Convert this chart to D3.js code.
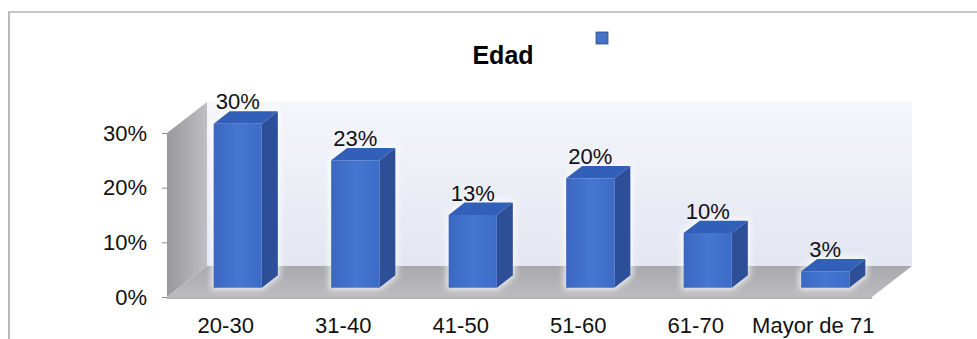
<!DOCTYPE html>
<html>
<head>
<meta charset="utf-8">
<script src="https://cdn.jsdelivr.net/npm/d3@7"></script>
<style>
    body { margin: 0; background: #fff; }
    svg { display: block; font-family: "Liberation Sans", Arial, sans-serif; }
</style>
</head>
<body>
<svg id="chart" width="977" height="339"></svg>
<script>
const title = "Edad"
const categories = ["20-30", "31-40", "41-50", "51-60", "61-70", "Mayor de 71"]
const values = [0.30, 0.233, 0.133, 0.20, 0.10, 0.03]
const valueLabels = ["30%", "23%", "13%", "20%", "10%", "3%"]
const yTicks = [0, 0.10, 0.20, 0.30]

const chartWidth = 977
const chartHeight = 339

// front plane of the floor and the depth vector of the 3d box
const plotLeft = 167
const plotRight = 872
const plotBottom = 297
const plotTop = 133
const depth = {x: 40, y: -31}
const barFront = 0.3
const barBack = 0.7

const svg = d3.select("#chart")

const x = d3.scaleBand()
    .domain(categories)
    .range([plotLeft, plotRight])
    .paddingInner(0.59)
    .paddingOuter(0.295)

const y = d3.scaleLinear()
    .domain([0, 0.30])
    .range([plotBottom, plotTop])

const shift = (p, t) => [p[0] + depth.x * t, p[1] + depth.y * t]
const poly = pts => pts.map(p => p.join(",")).join(" ")

const defs = svg.append("defs")

const grad = (id, x2, y2, stops) => {
    const g = defs.append("linearGradient")
        .attr("id", id)
        .attr("x1", 0).attr("y1", 0)
        .attr("x2", x2).attr("y2", y2)
    stops.forEach(([o, c]) => g.append("stop").attr("offset", o).attr("stop-color", c))
}

grad("backWall", 0, 1, [[0, "#f5f6fb"], [1, "#e3e6f1"]])
grad("leftWall", 1, 0, [[0, "#98989c"], [1, "#bfbfc3"]])
grad("floor", 0, 1, [[0, "#a9a9ad"], [1, "#bcbcc0"]])
grad("barFrontFill", 1, 0, [[0, "#3a67c2"], [0.5, "#4676d0"], [1, "#3d6cc8"]])

defs.append("filter")
    .attr("id", "glow")
    .attr("x", "-30%").attr("y", "-30%")
    .attr("width", "160%").attr("height", "160%")
    .append("feGaussianBlur")
    .attr("stdDeviation", 3)

// outer frame
svg.append("path")
    .attr("d", `M9,${chartHeight} V12 H${chartWidth}`)
    .attr("fill", "none")
    .attr("stroke", "#8c8c8c")
    .attr("stroke-width", 1.2)

// title + legend marker
svg.append("text")
    .attr("x", 503)
    .attr("y", 64)
    .attr("text-anchor", "middle")
    .attr("font-size", 25)
    .attr("font-weight", "bold")
    .text(title)

svg.append("rect")
    .attr("x", 596).attr("y", 32)
    .attr("width", 12).attr("height", 12)
    .attr("fill", "#4472c4")
    .attr("stroke", "#2f528f")
    .attr("stroke-width", 0.8)

// walls and floor
const y0 = y(0)
const yMax = y(0.30)

svg.append("polygon")
    .attr("points", poly([shift([plotLeft, yMax], 1), shift([plotRight, yMax], 1), shift([plotRight, y0], 1), shift([plotLeft, y0], 1)]))
    .attr("fill", "url(#backWall)")

svg.append("polygon")
    .attr("points", poly([[plotLeft, y0], [plotLeft, yMax], shift([plotLeft, yMax], 1), shift([plotLeft, y0], 1)]))
    .attr("fill", "url(#leftWall)")

svg.append("polygon")
    .attr("points", poly([[plotLeft, y0], [plotRight, y0], shift([plotRight, y0], 1), shift([plotLeft, y0], 1)]))
    .attr("fill", "url(#floor)")

svg.append("line")
    .attr("x1", plotLeft).attr("x2", plotRight)
    .attr("y1", y0 + 1).attr("y2", y0 + 1)
    .attr("stroke", "#9a9a9a")
    .attr("stroke-width", 1.5)

// y axis
const yAxis = svg.append("g")
    .attr("transform", `translate(${plotLeft},0)`)
    .call(d3.axisLeft(y)
        .tickValues(yTicks)
        .tickFormat(d3.format(".0%"))
        .tickSize(5)
        .tickPadding(15))

yAxis.select(".domain").remove()
yAxis.selectAll("line").attr("stroke", "#8a8a8a")
yAxis.selectAll("text")
    .attr("font-size", 22)
    .attr("font-family", "'Liberation Sans', Arial, sans-serif")
    .attr("fill", "#111")

// category labels
svg.append("g")
    .selectAll("text")
    .data(categories)
    .join("text")
    .attr("x", d => x(d) + x.bandwidth() / 2)
    .attr("y", 333)
    .attr("text-anchor", "middle")
    .attr("font-size", 22)
    .attr("fill", "#111")
    .text(d => d)

// bars
const bars = svg.append("g")
    .selectAll("g")
    .data(categories.map((c, i) => ({c, v: values[i], label: valueLabels[i]})))
    .join("g")

const corners = d => {
    const x0 = x(d.c)
    const x1 = x0 + x.bandwidth()
    const yb = y(0)
    const yt = y(d.v)
    return {
        fbl: shift([x0, yb], barFront), fbr: shift([x1, yb], barFront),
        ftl: shift([x0, yt], barFront), ftr: shift([x1, yt], barFront),
        bbr: shift([x1, yb], barBack), btl: shift([x0, yt], barBack), btr: shift([x1, yt], barBack),
    }
}

bars.append("polygon")
    .attr("points", d => {
        const k = corners(d)
        return poly([k.fbl, k.ftl, k.btl, k.btr, k.bbr, k.fbr])
    })
    .attr("fill", "#ffffff")
    .attr("stroke", "#ffffff")
    .attr("stroke-width", 4)
    .attr("opacity", 0.8)
    .attr("filter", "url(#glow)")

bars.append("polygon")
    .attr("points", d => {
        const k = corners(d)
        return poly([k.fbr, k.ftr, k.btr, k.bbr])
    })
    .attr("fill", "#2c4f98")

bars.append("polygon")
    .attr("points", d => {
        const k = corners(d)
        return poly([k.ftl, k.ftr, k.btr, k.btl])
    })
    .attr("fill", "#3260b8")

bars.append("polygon")
    .attr("points", d => {
        const k = corners(d)
        return poly([k.fbl, k.fbr, k.ftr, k.ftl])
    })
    .attr("fill", "url(#barFrontFill)")

bars.append("text")
    .attr("x", d => shift([x(d.c) + x.bandwidth() / 2, 0], barFront)[0])
    .attr("y", d => shift([0, y(d.v)], barBack)[1] - 2)
    .attr("text-anchor", "middle")
    .attr("font-size", 22)
    .attr("fill", "#111")
    .text(d => d.label)
</script>
</body>
</html>
